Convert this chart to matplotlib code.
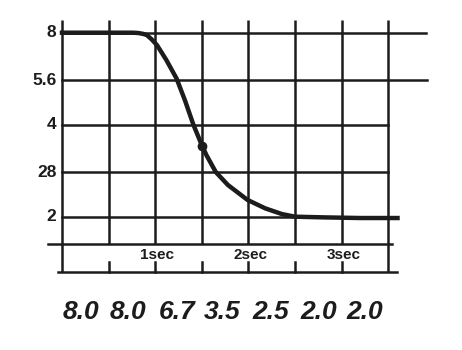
import matplotlib
matplotlib.use("Agg")
import matplotlib.pyplot as plt
import matplotlib.transforms as mtransforms

# ==================== Data ====================
# f-stop reading over time
time_s = [0.0, 0.76, 0.82, 0.87, 0.91, 0.96, 1.02, 1.12, 1.23, 1.32, 1.41, 1.50,
          1.55, 1.65, 1.78, 1.99, 2.18, 2.36, 2.50, 2.80, 3.20, 3.60]
fstop = [8.0, 8.0, 7.98, 7.93, 7.86, 7.62, 7.28, 6.51, 5.66, 4.80, 4.00, 3.43,
         3.18, 2.80, 2.54, 2.27, 2.13, 2.04, 2.00, 1.99, 1.98, 1.98]
marker_t, marker_v = 1.50, 3.40

stop_values = [8, 5.6, 4, 2.8, 2]
stop_labels = ["8", "5.6", "4", "28", "2"]
grid_times = [0.0, 0.5, 1.0, 1.5, 2.0, 2.5, 3.0, 3.5]
sec_times = [1, 2, 3]
sec_labels = ["1sec", "2sec", "3sec"]

readout_times = [0.20, 0.71, 1.23, 1.72, 2.24, 2.75, 3.25]
readout_labels = ["8.0", "8.0", "6.7", "3.5", "2.5", "2.0", "2.0"]

# ==================== Plot ====================
ink = "#1c1c1c"
fig = plt.figure(figsize=(4.62, 3.5), dpi=100)
ax = fig.add_axes([0, 0, 1, 1])
ax.set_yscale("log", base=2)
ax.set_xlim(-0.665, 4.292)
ax.set_ylim(0.7325, 10.235)
ax.axis("off")

tr = mtransforms.blended_transform_factory(ax.transData, ax.transAxes)

# vertical grid lines
for i, t in enumerate(grid_times):
    bottom = 0.223 if i in (0, len(grid_times) - 1) else 0.303
    ax.plot([t, t], [bottom, 0.943], color=ink, lw=1.8, transform=tr,
            solid_capstyle="butt")

# horizontal grid lines
right_ends = [0.922, 0.924, 0.840, 0.840, 0.859]
for v, xr, lab in zip(stop_values, right_ends, stop_labels):
    ax.axhline(v, xmin=0.134, xmax=xr, color=ink, lw=1.8)
    ax.text(-0.06, v, lab, ha="right", va="center", fontsize=12.5,
            fontweight="bold", family=["Liberation Sans", "DejaVu Sans"], color=ink)

# time ruler
ax.plot([-0.150, 3.54], [0.303, 0.303], color=ink, lw=1.8, transform=tr)
ax.plot([-0.043, 3.594], [0.223, 0.223], color=ink, lw=1.8, transform=tr)
for t in grid_times[1:-1]:
    ax.plot([t, t], [0.223, 0.251], color=ink, lw=1.8, transform=tr)
for t, lab in zip(sec_times, sec_labels):
    ax.text(t + 0.02, 0.271, lab, transform=tr, ha="center", va="center",
            fontsize=11, fontweight="bold",
            family=["Liberation Sans", "DejaVu Sans"], color=ink)

# curve
ax.plot(time_s, fstop, color=ink, lw=3.2, solid_joinstyle="round", zorder=3)
ax.plot([marker_t], [marker_v], "o", color=ink, ms=6, zorder=4)

# readouts under the chart
for t, lab in zip(readout_times, readout_labels):
    ax.text(t, 0.109, lab, transform=tr, ha="center", va="center",
            fontsize=19, fontweight="bold", style="italic",
            family=["Liberation Sans", "DejaVu Sans"], color=ink)

fig.savefig("out.png", dpi=100, facecolor="white")
